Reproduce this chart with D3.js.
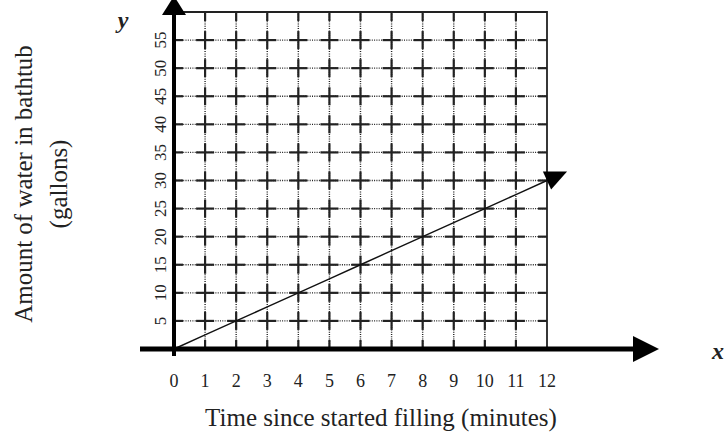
<!DOCTYPE html>
<html><head><meta charset="utf-8">
<script src="https://cdn.jsdelivr.net/npm/d3@7"></script>
<style>body{margin:0;background:#fff}svg{display:block}text{font-family:"Liberation Serif","Times New Roman",serif;fill:#222}</style>
</head><body><svg id="c" width="725" height="438"></svg>
<script>
const minutes = [0,1,2,3,4,5,6,7,8,9,10,11,12];
const gallons = [0,2.5,5,7.5,10,12.5,15,17.5,20,22.5,25,27.5,30];
const xTicks = [0,1,2,3,4,5,6,7,8,9,10,11,12];
const yTicks = [5,10,15,20,25,30,35,40,45,50,55];
const yGrid = [5,10,15,20,25,30,35,40,45,50,55];
const xTitle = "Time since started filling (minutes)";
const yTitle = ["Amount of water in bathtub","(gallons)"];

const svg = d3.select("#c");
const x = d3.scaleLinear().domain([0,12]).range([174,547]);
const y = d3.scaleLinear().domain([0,60]).range([349,12]);

// grid: dotted lines
const g = svg.append("g");
xTicks.filter(d=>d>0 && d<12).forEach(d=>{
  g.append("line").attr("x1",x(d)).attr("x2",x(d)).attr("y1",y(60)).attr("y2",y(0))
   .attr("stroke","#222").attr("stroke-width",1.4).attr("stroke-dasharray","1,1.3");
});
yGrid.forEach(d=>{
  g.append("line").attr("x1",x(0)).attr("x2",x(12)).attr("y1",y(d)).attr("y2",y(d))
   .attr("stroke","#222").attr("stroke-width",1.4).attr("stroke-dasharray","1,1.3");
});
// solid segments at intersections
const seg = 9;
xTicks.filter(d=>d>0 && d<12).forEach(xi=>{
  yGrid.concat([0,60]).forEach(yi=>{
    g.append("line").attr("x1",x(xi)).attr("x2",x(xi)).attr("y1",Math.max(y(yi)-seg,y(60))).attr("y2",Math.min(y(yi)+seg,y(0)))
     .attr("stroke","#222").attr("stroke-width",2.2);
  });
});
yGrid.forEach(yi=>{
  xTicks.forEach(xi=>{
    g.append("line").attr("x1",Math.max(x(xi)-seg,x(0))).attr("x2",Math.min(x(xi)+seg,x(12))).attr("y1",y(yi)).attr("y2",y(yi))
     .attr("stroke","#222").attr("stroke-width",2.2);
  });
});
// border top and right
svg.append("path").attr("d",`M${x(0)},${y(60)}H${x(12)}V${y(0)}`).attr("fill","none").attr("stroke","#222").attr("stroke-width",1.8);

// data line
const line = d3.line().x((d,i)=>x(minutes[i])).y((d,i)=>y(gallons[i]));
svg.append("path").datum(gallons).attr("d",line).attr("fill","none").attr("stroke","#111").attr("stroke-width",1.4);
// arrow at end
{
  const n = minutes.length-1;
  const ex = x(minutes[n]), ey = y(gallons[n]);
  const px = x(minutes[n-1]), py = y(gallons[n-1]);
  const ang = Math.atan2(ey-py, ex-px);
  const L = 22, W = 10;
  const tip = [ex+L*Math.cos(ang), ey+L*Math.sin(ang)];
  const b1 = [ex+W*Math.cos(ang+Math.PI/2), ey+W*Math.sin(ang+Math.PI/2)];
  const b2 = [ex-W*Math.cos(ang+Math.PI/2), ey-W*Math.sin(ang+Math.PI/2)];
  svg.append("path").attr("d",`M${tip}L${b1}L${b2}Z`).attr("fill","#000");
}

// axes
svg.append("line").attr("x1",140).attr("x2",636).attr("y1",y(0)).attr("y2",y(0)).attr("stroke","#000").attr("stroke-width",5);
svg.append("path").attr("d",`M633,${y(0)-13}L659,${y(0)}L633,${y(0)+13}Z`).attr("fill","#000");
svg.append("line").attr("x1",x(0)).attr("x2",x(0)).attr("y1",356).attr("y2",14).attr("stroke","#000").attr("stroke-width",4);
svg.append("path").attr("d",`M${x(0)-12},15L${x(0)},-4L${x(0)+12},15Z`).attr("fill","#000");

// tick labels
svg.append("g").selectAll("text").data(xTicks).join("text")
  .attr("x",d=>x(d)).attr("y",387).attr("text-anchor","middle").attr("font-size",18).text(d=>d);
svg.append("g").selectAll("text").data(yTicks).join("text")
  .attr("transform",d=>`translate(166,${y(d)}) rotate(-90)`).attr("text-anchor","middle").attr("font-size",17).text(d=>d);

// titles
svg.append("text").attr("x",381).attr("y",426).attr("text-anchor","middle").attr("font-size",25).text(xTitle);
svg.append("text").attr("transform","translate(32,184) rotate(-90)").attr("text-anchor","middle").attr("font-size",25).text(yTitle[0]);
svg.append("text").attr("transform","translate(67,184) rotate(-90)").attr("text-anchor","middle").attr("font-size",25).text(yTitle[1]);

// axis letters
svg.append("text").attr("x",123).attr("y",28).attr("text-anchor","middle").attr("font-size",24).attr("font-style","italic").attr("font-weight","bold").text("y");
svg.append("text").attr("x",718).attr("y",359).attr("text-anchor","middle").attr("font-size",24).attr("font-style","italic").attr("font-weight","bold").text("x");
</script></body></html>
